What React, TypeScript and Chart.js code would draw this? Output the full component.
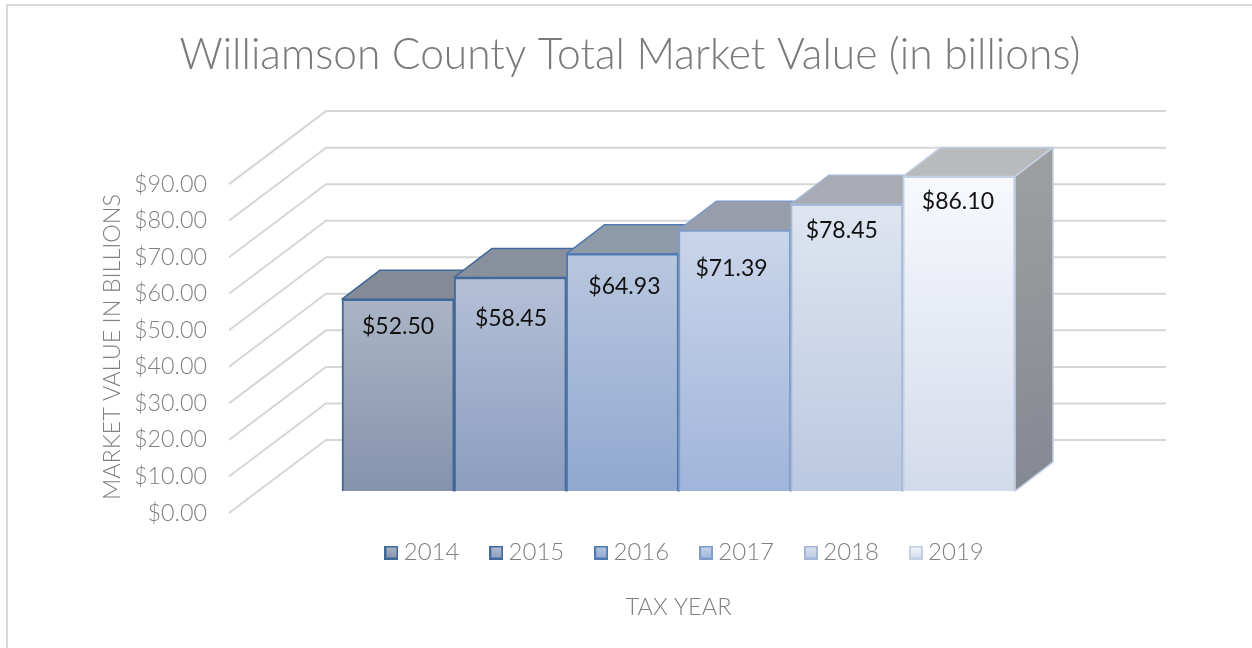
import React, { useEffect, useRef } from "react";
import { Chart, registerables } from "chart.js";

Chart.register(...registerables);

const years = ["2014", "2015", "2016", "2017", "2018", "2019"];
const marketValues = [52.5, 58.45, 64.93, 71.39, 78.45, 86.1];
const titleText = "Williamson County Total Market Value (in billions)";
const yAxisTitle = "MARKET VALUE IN BILLIONS";
const xAxisTitle = "TAX YEAR";

const frontTop = ["#abb4c6", "#b4c0d7", "#b9c7df", "#c9d5ea", "#dfe5f0", "#f7f9fd"];
const frontBottom = ["#8593ad", "#8c9dbf", "#90a8cf", "#a0b5da", "#bac8e1", "#d3daea"];
const edges = ["#3f6797", "#44699c", "#4f7ab2", "#7f9cc9", "#a5b8d8", "#c3cfe3"];
const roofs = ["#858b96", "#88909e", "#8f9aa9", "#979daa", "#a8abb3", "#b9babc"];
const labelDx = [0, 0.7, 2, -3, -5, -1];
const labelDy = [27, 41, 33, 38, 26, 24.7];

const FONT = "Lato, 'Noto Sans', sans-serif";
const GREY = "#808080";
const WALL_LEFT = 229;
const WALL_DX = 97;
const WALL_DY = -73;
const GRID_RIGHT = 1166;
const DEPTH_DX = 38;
const DEPTH_DY = -29;

const threeD = {
  id: "threeD",
  beforeDraw(chart: any) {
    const { ctx } = chart;
    ctx.save();
    ctx.strokeStyle = "#d9d9d9";
    ctx.lineWidth = 2;
    ctx.strokeRect(7, 5, 1400, 1400);
    ctx.restore();
    chart.legend.top = 503.8;
    chart.legend.left = 123;
    chart.legend.right = 1252;
  },
  beforeDatasetsDraw(chart: any) {
    const { ctx } = chart;
    const s = chart.scales.y;
    ctx.save();
    ctx.strokeStyle = "#d6d6d6";
    ctx.lineWidth = 2;
    s.ticks.forEach((t: any) => {
      const y = s.getPixelForValue(t.value);
      ctx.beginPath();
      ctx.moveTo(WALL_LEFT, y);
      ctx.lineTo(WALL_LEFT + WALL_DX, y + WALL_DY);
      ctx.lineTo(GRID_RIGHT, y + WALL_DY);
      ctx.stroke();
    });
    ctx.restore();
  },
  beforeDatasetDraw(chart: any, args: any) {
    const { ctx } = chart;
    const i = args.index;
    const bar = args.meta.data[i];
    if (!bar) return;
    const w = bar.width / 2;
    const l = bar.x - w;
    const r = bar.x + w;
    const t = bar.y;
    const b = bar.base;
    ctx.save();
    ctx.lineJoin = "round";
    ctx.lineWidth = 1.5;
    ctx.strokeStyle = edges[i];
    const side = ctx.createLinearGradient(r, t, r + DEPTH_DX, b);
    side.addColorStop(0, "#9d9e9f");
    side.addColorStop(1, "#848892");
    ctx.fillStyle = side;
    ctx.beginPath();
    ctx.moveTo(r, t);
    ctx.lineTo(r + DEPTH_DX, t + DEPTH_DY);
    ctx.lineTo(r + DEPTH_DX, b + DEPTH_DY);
    ctx.lineTo(r, b);
    ctx.closePath();
    ctx.fill();
    ctx.stroke();
    ctx.fillStyle = roofs[i];
    ctx.beginPath();
    ctx.moveTo(l, t);
    ctx.lineTo(l + DEPTH_DX, t + DEPTH_DY);
    ctx.lineTo(r + DEPTH_DX, t + DEPTH_DY);
    ctx.lineTo(r, t);
    ctx.closePath();
    ctx.fill();
    ctx.stroke();
    ctx.restore();
  },
  afterDatasetsDraw(chart: any) {
    const { ctx } = chart;
    ctx.save();
    ctx.fillStyle = "#111111";
    ctx.font = `23px ${FONT}`;
    ctx.textAlign = "center";
    ctx.textBaseline = "middle";
    chart.data.datasets.forEach((ds: any, i: number) => {
      const bar = chart.getDatasetMeta(i).data[i];
      ctx.fillText(`$${marketValues[i].toFixed(2)}`, bar.x + labelDx[i], bar.y + labelDy[i]);
    });
    ctx.restore();
  },
  afterDraw(chart: any) {
    const { ctx } = chart;
    ctx.save();
    ctx.translate(112, 347);
    ctx.rotate(-Math.PI / 2);
    ctx.fillStyle = GREY;
    ctx.font = `300 23.4px ${FONT}`;
    ctx.textAlign = "center";
    ctx.textBaseline = "middle";
    ctx.fillText(yAxisTitle, 0, 0);
    ctx.restore();
  },
};

function swatch(i: number) {
  const c = document.createElement("canvas");
  c.width = 14;
  c.height = 14;
  const g = c.getContext("2d")!;
  const grad = g.createLinearGradient(0, 0, 0, 14);
  grad.addColorStop(0, frontTop[i]);
  grad.addColorStop(1, frontBottom[i]);
  g.fillStyle = grad;
  g.fillRect(0, 0, 14, 14);
  g.strokeStyle = edges[i];
  g.lineWidth = 2;
  g.strokeRect(1, 1, 12, 12);
  return c;
}

export default function App() {
  const ref = useRef<HTMLCanvasElement>(null);
  useEffect(() => {
    const chart = new Chart(ref.current!, {
      type: "bar",
      plugins: [threeD],
      data: {
        labels: years,
        datasets: years.map((year, i) => ({
          label: year,
          yAxisID: "yBar",
          order: years.length - i,
          clip: false,
          data: years.map((_, j) => (j === i ? marketValues[i] : null)),
          barPercentage: 1,
          categoryPercentage: 1,
          borderWidth: 2,
          borderColor: edges[i],
          backgroundColor: (c: any) => {
            const s = c.chart.scales.yBar;
            if (!s) return frontBottom[i];
            const g = c.chart.ctx.createLinearGradient(
              0,
              s.getPixelForValue(marketValues[i]),
              0,
              s.getPixelForValue(0)
            );
            g.addColorStop(0, frontTop[i]);
            g.addColorStop(1, frontBottom[i]);
            return g;
          },
        })),
      } as any,
      options: {
        responsive: false,
        animation: false,
        layout: { padding: { left: 8, right: 0, top: 0, bottom: 0 } },
        plugins: {
          tooltip: { enabled: false },
          title: {
            display: true,
            text: titleText,
            color: "#7a7a7a",
            font: { family: FONT, size: 42.5, weight: "300" },
            padding: { top: 30, bottom: 30 },
          },
          legend: {
            position: "bottom",
            fullSize: true,
            labels: {
              color: GREY,
              font: { family: FONT, size: 24, weight: "300" },
              usePointStyle: true,
              pointStyleWidth: 0.5,
              padding: 36.7,
              generateLabels: () =>
                years.map((year, i) => ({
                  text: year,
                  fontColor: GREY,
                  pointStyle: swatch(i),
                  datasetIndex: i,
                  hidden: false,
                  lineWidth: 0,
                })),
            },
          },
        },
        scales: {
          x: {
            stacked: true,
            weight: 2000,
            grid: { display: false },
            border: { display: false },
            ticks: { display: false },
            title: {
              display: true,
              text: xAxisTitle,
              color: GREY,
              font: { family: FONT, size: 23.6, weight: "300" },
              padding: { top: 0, bottom: 26 },
            },
            afterFit: (s: any) => {
              s.height = 64.3;
            },
          },
          y: {
            position: "left",
            min: 0,
            max: 110,
            grid: { display: false, drawTicks: false },
            border: { display: false },
            ticks: {
              stepSize: 10,
              padding: 135,
              color: GREY,
              font: { family: FONT, size: 23.3, weight: "300" },
              callback: (v: any) => `$${Number(v).toFixed(2)}`,
            },
            afterBuildTicks: (s: any) => {
              s.ticks = s.ticks.filter((t: any) => t.value <= 90);
            },
            afterFit: (s: any) => {
              s.width = 334;
              s.paddingTop = 0;
              s.paddingBottom = 0;
            },
          },
          yBar: {
            position: "right",
            stacked: true,
            min: -6,
            max: 104,
            grid: { display: false, drawTicks: false },
            border: { display: false },
            ticks: { display: false },
            afterFit: (s: any) => {
              s.width = 237;
            },
          },
        },
      } as any,
    });
    return () => chart.destroy();
  }, []);
  return (
    <div style={{ position: "absolute", left: 0, top: 0, width: 1252, height: 648, background: "#fff" }}>
      <canvas ref={ref} width={1252} height={648} style={{ display: "block" }} />
    </div>
  );
}
